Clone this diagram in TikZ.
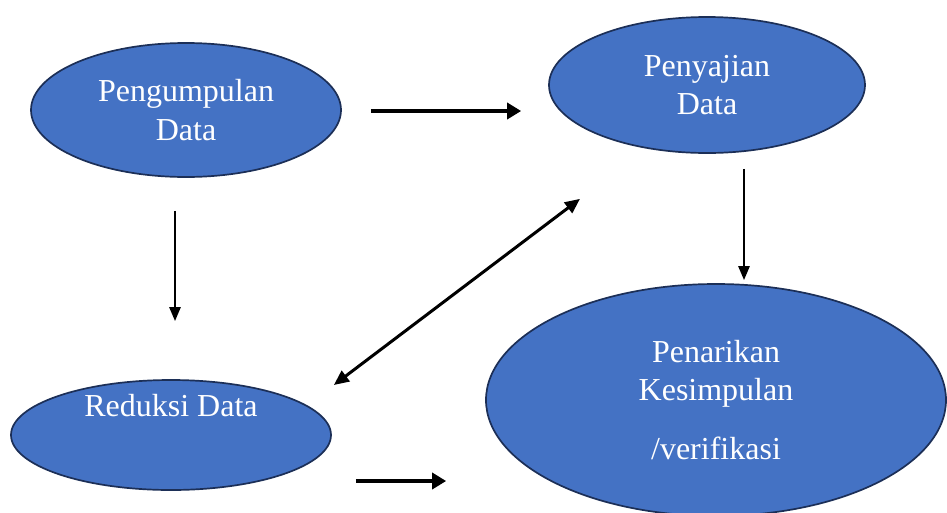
\documentclass[tikz,border=0pt]{standalone}
\usepackage{fontspec}
\setmainfont{Liberation Serif}
\usepackage{tikz}
\usetikzlibrary{calc,positioning,arrows.meta,shapes.geometric}
\definecolor{officeblue}{HTML}{4472C4}
\definecolor{rimblue}{HTML}{1C2F57}
\tikzset{
  blob/.style={ellipse, draw=rimblue, fill=officeblue, line width=1.7pt, inner sep=0pt,
    text=white, align=center, font=\fontsize{32}{38.5}\selectfont},
  lbl/.style={text=white, align=center, inner sep=0pt, font=\fontsize{32}{38.5}\selectfont},
  bigarrow/.style={line width=4pt, -{Triangle[length=14pt,width=16pt]}},
  thinarrow/.style={line width=2.5pt, -{Triangle[length=14pt,width=11pt]}},
  twoarrow/.style={line width=3pt, {Triangle[length=15pt,width=13pt]}-{Triangle[length=15pt,width=13pt]}}
}
\begin{document}
\begin{tikzpicture}[x=1pt,y=-1pt]
  \useasboundingbox (0,0) rectangle (947,512);
  \clip (0,0) rectangle (947,512);
  % the four stages
  \node[blob, minimum width=310pt, minimum height=134pt] (pgm) at (186,110) {Pengumpulan\\Data};
  \node[blob, minimum width=316pt, minimum height=136pt] (pny) at (707,85) {Penyajian\\Data};
  \node[blob, minimum width=320pt, minimum height=110pt] (red) at (171,435) {};
  \node[lbl] (redtxt) at ($(red.center)+(0,-29)$) {Reduksi Data};
  \node[blob, minimum width=460pt, minimum height=232pt] (pnr) at (716,400) {Penarikan\\Kesimpulan\\[20pt]/verifikasi};
  % arrows
  \draw[bigarrow] ($(pgm.east)+(29,1)$) -- ($(pny.west)+(-27,26)$);
  \draw[thinarrow] ($(pgm.south)+(-11,33)$) -- ($(red.north)+(4,-58)$);
  \draw[twoarrow] ($(red.east)+(2,-50)$) -- ($(pny.south)+(-127,45)$);
  \draw[thinarrow] ($(pny.south)+(37,15)$) -- ($(pnr.north)+(28,-3)$);
  \draw[bigarrow] ($(red.east)+(24,46)$) -- ($(pnr.west)+(-39,81)$);
\end{tikzpicture}
\end{document}
